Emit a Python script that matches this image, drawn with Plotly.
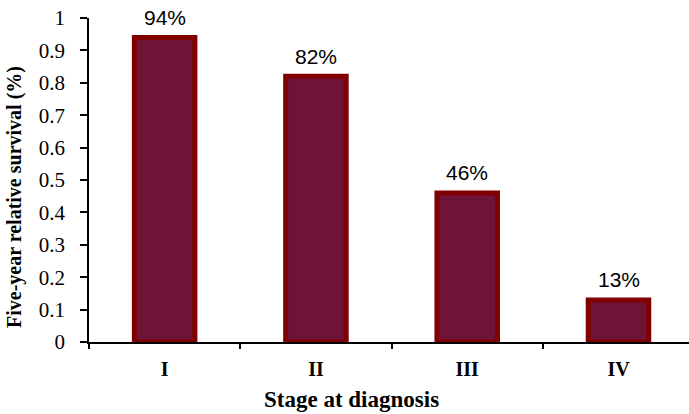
import plotly.graph_objects as go

# Survival by stage at diagnosis
stages = ["I", "II", "III", "IV"]
survival = [0.94, 0.82, 0.46, 0.13]
y_ticks = [0, 0.1, 0.2, 0.3, 0.4, 0.5, 0.6, 0.7, 0.8, 0.9, 1]
y_tick_text = ["0", "0.1", "0.2", "0.3", "0.4", "0.5", "0.6", "0.7", "0.8", "0.9", "1"]
x_title = "Stage at diagnosis"
y_title = "Five-year relative survival (%)"

serif = "Liberation Serif, Times New Roman, serif"
sans = "Liberation Sans, Arial, sans-serif"

fig = go.Figure(
    go.Bar(
        x=stages,
        y=survival,
        width=0.4,
        marker=dict(color="#6E1439", line=dict(color="#800000", width=5)),
        hoverinfo="x+y",
    )
)

# value labels above each bar
for s, v in zip(stages, survival):
    fig.add_annotation(
        x=s, y=v, xref="x", yref="y",
        text=f"{v:.0%}",
        showarrow=False,
        yanchor="middle",
        yshift=20,
        font=dict(family=sans, size=21, color="black"),
    )

# axis titles
fig.add_annotation(
    x=0.438, y=-0.179, xref="paper", yref="paper",
    text=x_title, showarrow=False,
    xanchor="center", yanchor="middle",
    font=dict(family=serif, size=23, color="black", weight="bold"),
)
fig.add_annotation(
    x=-0.125, y=0.4475, xref="paper", yref="paper",
    text=y_title, showarrow=False, textangle=-90,
    xanchor="center", yanchor="middle",
    font=dict(family=serif, size=20, color="black", weight="bold"),
)

fig.update_layout(
    width=689,
    height=414,
    margin=dict(l=89, r=0, t=18, b=72),
    paper_bgcolor="white",
    plot_bgcolor="white",
    showlegend=False,
)

fig.update_xaxes(
    type="category",
    range=[-0.5, 3.466],
    showline=True,
    linecolor="black",
    linewidth=1.5,
    ticks="outside",
    tickson="boundaries",
    ticklen=5,
    tickwidth=1.5,
    tickcolor="black",
    ticklabelstandoff=8,
    tickfont=dict(family=serif, size=20, color="black", weight="bold"),
    showgrid=False,
    zeroline=False,
)

fig.update_yaxes(
    range=[0, 1],
    tickvals=y_ticks,
    ticktext=y_tick_text,
    showline=True,
    linecolor="black",
    linewidth=1.5,
    ticks="outside",
    ticklen=7,
    tickwidth=1.5,
    tickcolor="black",
    ticklabelstandoff=11,
    tickfont=dict(family=serif, size=21, color="black"),
    showgrid=False,
    zeroline=False,
)

fig.write_html("out.html")
